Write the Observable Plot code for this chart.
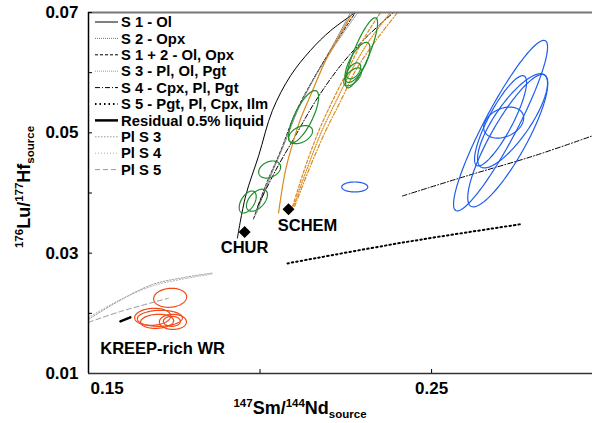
<!DOCTYPE html>
<html><head><meta charset="utf-8">
<script src="https://cdn.jsdelivr.net/npm/d3@7"></script>
<script src="https://cdn.jsdelivr.net/npm/@observablehq/plot@0.6"></script>
<style>
body{margin:0;background:#fff;overflow:hidden;font-family:"Liberation Sans",Arial,sans-serif}
#chart svg{overflow:visible;display:block}
#caption{font:18px "Liberation Sans",Arial,sans-serif;line-height:18px;padding-left:84px;white-space:nowrap;margin-top:0px}
#caption sup{font-size:12px;vertical-align:6px}
</style></head>
<body><div id="chart"></div>
<div id="caption"><sup>176</sup>Lu/<sup>177</sup>Hf and <sup>147</sup>Sm/<sup>144</sup>Nd of the sources</div>
<script>
// ---- axes ----
const xTickValues = [0.20, 0.25];
const xTickLabels = [0.15, 0.25];
const yTickValues = [0.02, 0.03, 0.04, 0.05, 0.06, 0.07];
const yTickLabels = [0.01, 0.03, 0.05, 0.07];

// ---- legend series ----
const legendNames = ["S 1 - Ol","S 2 - Opx","S 1 + 2 - Ol, Opx","S 3 - Pl, Ol, Pgt","S 4 - Cpx, Pl, Pgt","S 5 - Pgt, Pl, Cpx, Ilm","Residual 0.5% liquid","Pl S 3","Pl S 4","Pl S 5"];

// ---- model curves [Sm/Nd, Lu/Hf] ----
const s1Ol = [[0.1934,0.0325],[0.1958,0.0395],[0.1996,0.0462],[0.2036,0.0537],[0.2089,0.0595],[0.2147,0.0637],[0.2206,0.0670],[0.2278,0.0700]];
const s2Opx = [[0.1990,0.0367],[0.2025,0.0420],[0.2068,0.0478],[0.2112,0.0540],[0.2160,0.0593],[0.2210,0.0643],[0.2264,0.0700]];
const s12OlOpx = [[0.1981,0.0357],[0.2016,0.0412],[0.2060,0.0470],[0.2103,0.0533],[0.2153,0.0587],[0.2206,0.0637],[0.2278,0.0700]];
const s3PlOlPgt = [[0.1986,0.0362],[0.2020,0.0416],[0.2064,0.0474],[0.2108,0.0537],[0.2157,0.0590],[0.2212,0.0640],[0.2285,0.0700]];
const s4CpxPlPgt = [[0.1993,0.0378],[0.2045,0.0437],[0.2103,0.0495],[0.2162,0.0553],[0.2235,0.0612],[0.2308,0.0658],[0.2389,0.0700]];
const s4CpxPlPgtB = [[0.2415,0.0395],[0.2600,0.0428],[0.2800,0.0462],[0.2969,0.0495]];
const s5PgtPlCpxIlm = [[0.2080,0.0283],[0.2420,0.0318],[0.2759,0.0348]];
const residualLiquid = [[0.1593,0.01867],[0.1622,0.01933]];
const plS3 = [[0.1500,0.0190],[0.1587,0.0220],[0.1687,0.0248],[0.1783,0.0260],[0.1862,0.0267]];
const plS4 = [[0.1500,0.0193],[0.1590,0.0222],[0.1690,0.0246],[0.1785,0.0258],[0.1860,0.0265]];
const plS5 = [[0.1500,0.0185],[0.1593,0.0203],[0.1733,0.0225]];
// SCHEM-source curves (orange)
const schemSolid = [[0.2054,0.0367],[0.2074,0.0437],[0.2095,0.0482],[0.2118,0.0523],[0.2153,0.0570],[0.2191,0.0620],[0.2235,0.0665],[0.2270,0.0700]];
const schemDashed = [[0.2095,0.0378],[0.2133,0.0445],[0.2171,0.0503],[0.2211,0.0553],[0.2255,0.0603],[0.2299,0.0653],[0.2351,0.0700]];
const schemDotted = [[0.2098,0.0378],[0.2140,0.0445],[0.2180,0.0503],[0.2222,0.0553],[0.2266,0.0603],[0.2318,0.0653],[0.2380,0.0700]];
const schemDashDot = [[0.2101,0.0378],[0.2147,0.0445],[0.2191,0.0503],[0.2235,0.0553],[0.2278,0.0603],[0.2337,0.0653],[0.2401,0.0700]];

// ---- reference reservoirs ----
const reservoirNames = ["CHUR","SCHEM"];
const reservoirSmNd = [0.1955, 0.2083];
const reservoirLuHf = [0.0335, 0.0373];

// ---- error ellipses: centre x, centre y, half-range x, half-range y, correlation ----
const greenEllipses = [
  [0.1964,0.0385,0.00248,0.00183,0.5],
  [0.1991,0.0388,0.00306,0.00183,0.5],
  [0.2028,0.0439,0.00320,0.00142,0.3],
  [0.2118,0.0497,0.00350,0.00150,0.4],
  [0.2127,0.0527,0.00437,0.00433,0.75],
  [0.2296,0.0633,0.00466,0.00583,0.85],
  [0.2284,0.0617,0.00364,0.00333,0.7],
  [0.2273,0.0603,0.00204,0.00133,0.5],
  [0.2270,0.0593,0.00260,0.00150,0.6]
];
const blueEllipses = [
  [0.2701,0.0512,0.01370,0.01417,0.92],
  [0.2722,0.0487,0.01166,0.01100,0.86],
  [0.2736,0.0520,0.01020,0.00783,0.80],
  [0.2710,0.0517,0.00583,0.00258,0.30],
  [0.2701,0.0520,0.00758,0.00750,0.85],
  [0.2276,0.0410,0.00379,0.00083,0.0]
];
const redEllipses = [
  [0.1738,0.02258,0.00481,0.00158,0.1],
  [0.1687,0.01942,0.00525,0.00142,0.1],
  [0.1708,0.01917,0.00656,0.00133,0.05],
  [0.1700,0.01867,0.00481,0.00117,0.1],
  [0.1746,0.01858,0.00394,0.00125,0.0],
  [0.1743,0.01867,0.00248,0.00083,0.0]
];

// ---- styles ----
const styles = {
  "S 1 - Ol": {stroke:"#000", w:1, dash:null},
  "S 2 - Opx": {stroke:"#777", w:1, dash:"1,1"},
  "S 1 + 2 - Ol, Opx": {stroke:"#000", w:1, dash:"3,2"},
  "S 3 - Pl, Ol, Pgt": {stroke:"#999", w:1, dash:"1,1"},
  "S 4 - Cpx, Pl, Pgt": {stroke:"#000", w:1, dash:"5,2,1,2"},
  "S 5 - Pgt, Pl, Cpx, Ilm": {stroke:"#000", w:2, dash:"1.5,3"},
  "Residual 0.5% liquid": {stroke:"#000", w:2.5, dash:null},
  "Pl S 3": {stroke:"#999", w:1, dash:"1.5,1.5"},
  "Pl S 4": {stroke:"#aaa", w:1, dash:"1,2"},
  "Pl S 5": {stroke:"#999", w:1, dash:"5,3"}
};
const curves = [
  ["S 1 - Ol", s1Ol], ["S 2 - Opx", s2Opx], ["S 1 + 2 - Ol, Opx", s12OlOpx],
  ["S 3 - Pl, Ol, Pgt", s3PlOlPgt], ["S 4 - Cpx, Pl, Pgt", s4CpxPlPgt], ["S 4 - Cpx, Pl, Pgt", s4CpxPlPgtB],
  ["S 5 - Pgt, Pl, Cpx, Ilm", s5PgtPlCpxIlm], ["Residual 0.5% liquid", residualLiquid],
  ["Pl S 3", plS3], ["Pl S 4", plS4], ["Pl S 5", plS5]
];
const orange = "#d98a1c";
const orangeCurves = [[schemSolid,null],[schemDashed,"3,2"],[schemDotted,"1,1.5"],[schemDashDot,"4,2,1,2"]];

function ellipsePoints(list, color) {
  const pts = [];
  list.forEach((e, k) => {
    const d = Math.acos(e[4]);
    for (let i = 0; i <= 144; i++) {
      const t = i / 144 * 2 * Math.PI;
      pts.push({id: color + k, x: e[0] + e[2] * Math.cos(t), y: e[1] + e[3] * Math.cos(t - d)});
    }
  });
  return pts;
}

const font = "Liberation Sans, Arial, sans-serif";
const marks = [];
curves.forEach(([name, pts]) => {
  const s = styles[name];
  marks.push(Plot.line(pts, {x: d => d[0], y: d => d[1], curve: "catmull-rom", stroke: s.stroke, strokeWidth: s.w, strokeDasharray: s.dash}));
});
orangeCurves.forEach(([pts, dash]) => {
  marks.push(Plot.line(pts, {x: d => d[0], y: d => d[1], curve: "catmull-rom", stroke: orange, strokeWidth: 1.2, strokeDasharray: dash}));
});
marks.push(Plot.line(ellipsePoints(greenEllipses, "g"), {x: "x", y: "y", z: "id", stroke: "#1e8f2a", strokeWidth: 1.2}));
marks.push(Plot.line(ellipsePoints(blueEllipses, "b"), {x: "x", y: "y", z: "id", stroke: "#1f5cf0", strokeWidth: 1.2}));
marks.push(Plot.line(ellipsePoints(redEllipses, "r"), {x: "x", y: "y", z: "id", stroke: "#f04a18", strokeWidth: 1.2}));
marks.push(Plot.dot(reservoirNames, {x: (d, i) => reservoirSmNd[i], y: (d, i) => reservoirLuHf[i], symbol: "diamond2", fill: "#000", stroke: null, r: 5.4}));
marks.push(Plot.text(["CHUR"], {x: reservoirSmNd[0], y: reservoirLuHf[0], text: d => d, dy: 16, fontSize: 16.5, fontWeight: "bold", fill: "#000"}));
marks.push(Plot.text(["SCHEM"], {x: reservoirSmNd[1], y: reservoirLuHf[1], text: d => d, dx: 19, dy: 16, fontSize: 16.5, fontWeight: "bold", fill: "#000"}));
marks.push(Plot.text(["KREEP-rich WR"], {x: 0.1716, y: 0.0142, text: d => d, fontSize: 16.5, fontWeight: "bold", fill: "#000"}));
// frame
marks.push(Plot.ruleY([0.07], {stroke: "#777", strokeWidth: 2}));
marks.push(Plot.ruleY([0.01], {stroke: "#333", strokeWidth: 1.5}));
marks.push(Plot.ruleX([0.15], {stroke: "#000", strokeWidth: 1.5}));
// ticks
marks.push(Plot.axisY({ticks: yTickValues, tickSize: -4, tickFormat: () => "", label: null}));
marks.push(Plot.axisX({ticks: xTickValues, tickSize: -4, tickFormat: () => "", label: null}));
marks.push(Plot.axisY({ticks: yTickLabels, tickSize: 0, tickPadding: 10, tickFormat: d => d.toFixed(2), label: null, fontSize: 17, fontWeight: "bold", fill: "#000"}));
marks.push(Plot.text([xTickLabels[0]], {x: d => d, frameAnchor: "bottom", dy: 20, dx: 2, textAnchor: "start", text: d => d.toFixed(2), fontSize: 17, fontWeight: "bold", fill: "#000"}));
marks.push(Plot.text([xTickLabels[1]], {x: d => d, frameAnchor: "bottom", dy: 20, text: d => d.toFixed(2), fontSize: 17, fontWeight: "bold", fill: "#000"}));

const plot = Plot.plot({
  width: 592, height: 419,
  marginLeft: 88, marginRight: 0, marginTop: 12, marginBottom: 46,
  x: {domain: [0.15, 0.2969]},
  y: {domain: [0.01, 0.07]},
  style: {fontFamily: font, background: "white", overflow: "visible"},
  marks
});
document.getElementById("chart").appendChild(plot);

// legend and axis titles
const svg = d3.select(plot);
const lg = svg.append("g").attr("font-family", font).attr("font-weight", "bold").attr("font-size", 14.8).attr("text-anchor", "start");
legendNames.forEach((name, i) => {
  const s = styles[name];
  const y = 22 + i * 16.4;
  lg.append("line").attr("x1", 95).attr("x2", 118).attr("y1", y).attr("y2", y)
    .attr("stroke", s.stroke).attr("stroke-width", s.w).attr("stroke-dasharray", s.dash);
  lg.append("text").attr("x", 121).attr("y", y).attr("dy", "0.35em").attr("fill", "#000").text(name);
});
function title(g, parts) {
  const t = g.append("text").attr("font-family", font).attr("font-weight", "bold").attr("fill", "#000").attr("text-anchor", "middle");
  parts.forEach(([txt, kind]) => {
    const sp = t.append("tspan").text(txt);
    if (kind === "sup") sp.attr("font-size", 11.5).attr("dy", -7);
    else if (kind === "sub") sp.attr("font-size", 11.5).attr("dy", 4);
    else sp.attr("font-size", 18).attr("dy", kind === "afterSup" ? 7 : 0);
  });
  return t;
}
title(svg.append("g").attr("transform", "translate(300,414)"),
  [["147","sup"],["Sm/","afterSup"],["144","sup"],["Nd","afterSup"],["source","sub"]]);
title(svg.append("g").attr("transform", "translate(30,187) rotate(-90)"),
  [["176","sup"],["Lu/","afterSup"],["177","sup"],["Hf","afterSup"],["source","sub"]]);
</script></body></html>
